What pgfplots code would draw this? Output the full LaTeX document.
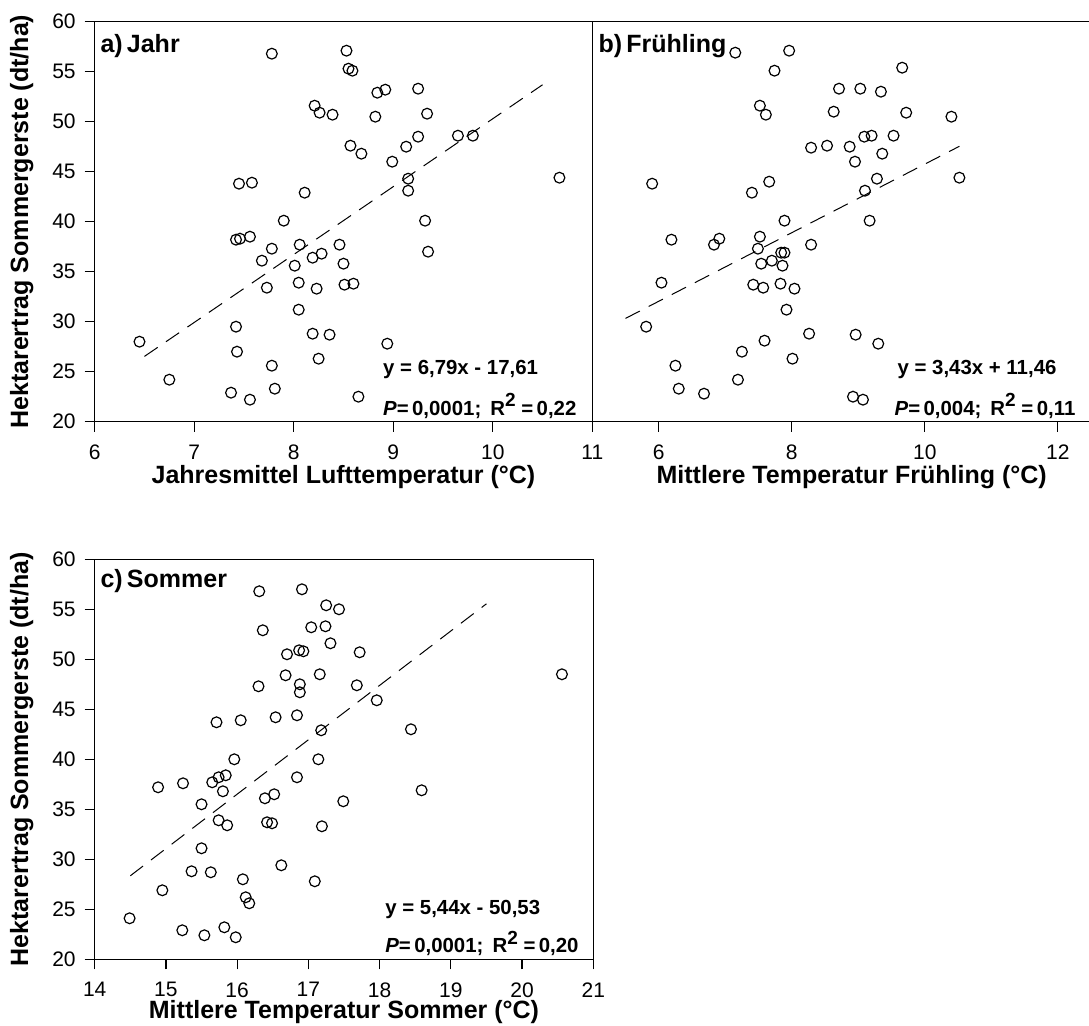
\documentclass[border=0pt]{standalone}
\usepackage{fontspec}
\setmainfont{Liberation Sans}
\usepackage{pgfplots}
\pgfplotsset{compat=1.18}

\pgfplotsset{
  panel/.style={
    scale only axis, height=200pt,
    ymin=20, ymax=60, ytick={20,25,...,60},
    tick align=outside, xtick pos=left, ytick pos=left,
    major tick length=5pt,
    axis line style={line width=0.6pt},
    every tick/.style={black, line width=0.6pt},
    tick label style={font=\fontsize{10.5}{12}\selectfont},
    xticklabel style={yshift=-3pt},
    yticklabel style={xshift=-1pt},
    /pgf/number format/assume math mode=true,
    label style={font=\bfseries\fontsize{12.5}{14}\selectfont},
    clip=false,
  },
  pts/.style={only marks, mark=o, mark size=2.7pt, black, mark options={line width=0.6pt}},
  reg/.style={black, line width=0.5pt, dash pattern=on 8pt off 5pt},
}
\tikzset{
  note/.style={anchor=west, inner sep=0pt, font=\bfseries\fontsize{10.2}{12}\selectfont},
  tag/.style={anchor=west, inner sep=0pt, font=\bfseries\fontsize{12.5}{14}\selectfont},
}
\newcommand{\Rsq}{R\raisebox{0.42em}{\fontsize{9.5}{10}\selectfont 2}}

\begin{document}
\begin{tikzpicture}
\useasboundingbox (-47.35pt,-302.15pt) rectangle (497.15pt,210.85pt);

% a) Jahr
\begin{axis}[panel, at={(0pt,0pt)}, anchor=south west, width=248.8pt,
  xmin=6, xmax=11, xtick={6,...,11},
  xlabel={Jahresmittel Lufttemperatur (°C)},
  ylabel={Hektarertrag Sommergerste (dt/ha)},
  xlabel style={at={(rel axis cs:0.5,-0.1375)}, anchor=center},
  ylabel style={at={(rel axis cs:-0.1467,0.5)}, anchor=center}]
\addplot[pts] coordinates {
(6.45,28.0) (6.75,24.2) (7.78,56.8) (7.45,43.8) (7.58,43.9) (7.42,38.2)
(7.46,38.3) (7.56,38.5) (7.90,40.1) (7.78,37.3) (7.68,36.1) (7.73,33.4)
(7.42,29.5) (7.43,27.0) (7.78,25.6) (7.81,23.3) (7.37,22.9) (7.56,22.2)
(8.11,42.9) (8.06,37.7) (8.01,35.6) (8.05,33.9) (8.05,31.2) (8.19,36.4)
(8.28,36.8) (8.23,33.3) (8.19,28.8) (8.36,28.7) (8.25,26.3) (8.21,51.6)
(8.26,50.9) (8.39,50.7) (8.53,57.1) (8.55,55.3) (8.59,55.1) (8.57,47.6)
(8.68,46.8) (8.46,37.7) (8.50,35.8) (8.51,33.7) (8.60,33.8) (8.65,22.5)
(8.84,52.9) (8.92,53.2) (9.25,53.3) (8.82,50.5) (9.34,50.8) (9.25,48.5)
(9.13,47.5) (8.99,46.0) (9.65,48.6) (9.80,48.6) (9.15,44.3) (9.15,43.1)
(10.67,44.4) (9.32,40.1) (9.35,37.0) (8.94,27.8)
};
\addplot[reg] coordinates {(6.5,26.53) (10.5,53.69)};
\node[tag] at (rel axis cs:0.011,0.94) {a)\,Jahr};
\node[note] at (axis cs:8.895,25.17) {y = 6,79x - 17,61};
\node[note] at (axis cs:8.895,21.57) {\textit{P}=\,0,0001;\, \Rsq\ =\,0,22};
\end{axis}

% b) Fruehling
\begin{axis}[panel, at={(248.8pt,0pt)}, anchor=south west, width=249.4pt,
  xmin=5, xmax=12.5, xtick={6,8,10,12}, ytick=\empty,
  xlabel={Mittlere Temperatur Frühling (°C)},
  xlabel style={at={(rel axis cs:0.52,-0.1375)}, anchor=center}]
\addplot[pts] coordinates {
(7.15,56.9) (7.96,57.1) (7.74,55.1) (9.66,55.4) (8.71,53.3) (9.03,53.3)
(9.34,53.0) (7.52,51.6) (7.61,50.7) (8.63,51.0) (9.72,50.9) (10.40,50.5)
(9.09,48.5) (9.20,48.6) (9.53,48.6) (8.29,47.4) (8.53,47.6) (8.87,47.5)
(9.36,46.8) (8.95,46.0) (5.90,43.8) (7.66,44.0) (7.40,42.9) (9.28,44.3)
(9.10,43.1) (10.52,44.4) (7.89,40.1) (9.17,40.1) (6.19,38.2) (6.91,38.3)
(6.83,37.7) (7.52,38.5) (8.29,37.7) (7.49,37.3) (7.84,36.9) (7.89,36.9)
(7.70,36.1) (7.54,35.8) (7.86,35.6) (6.04,33.9) (7.42,33.7) (7.57,33.4)
(7.83,33.8) (8.04,33.3) (7.92,31.2) (5.81,29.5) (8.26,28.8) (8.96,28.7)
(7.59,28.1) (9.30,27.8) (7.25,27.0) (8.01,26.3) (6.25,25.6) (6.30,23.3)
(7.19,24.2) (6.68,22.8) (8.92,22.5) (9.07,22.2)
};
\addplot[reg] coordinates {(5.5,30.33) (10.52,47.54)};
\node[tag] at (rel axis cs:0.012,0.94) {b)\,Frühling};
\node[note] at (axis cs:9.585,25.17) {y = 3,43x + 11,46};
\node[note] at (axis cs:9.54,21.57) {\textit{P}=\,0,004;\, \Rsq\ =\,0,11};
\end{axis}

% c) Sommer
\begin{axis}[panel, at={(0pt,-268.8pt)}, anchor=south west, width=249.3pt,
  xmin=14, xmax=21, xtick={14,...,21},
  xlabel={Mittlere Temperatur Sommer (°C)},
  ylabel={Hektarertrag Sommergerste (dt/ha)},
  xlabel style={at={(rel axis cs:0.5,-0.131)}, anchor=center},
  ylabel style={at={(rel axis cs:-0.1464,0.5)}, anchor=center}]
\addplot[pts] coordinates {
(14.49,24.1) (14.89,37.2) (14.95,26.9) (15.24,37.6) (15.23,22.9) (15.50,35.5)
(15.50,31.1) (15.36,28.8) (15.54,22.4) (15.63,28.7) (15.71,43.7) (15.65,37.7)
(15.74,38.2) (15.84,38.4) (15.80,36.8) (15.74,33.9) (15.86,33.4) (15.82,23.2)
(15.98,22.2) (15.96,40.0) (16.05,43.9) (16.08,28.0) (16.12,26.2) (16.17,25.6)
(16.31,56.8) (16.36,52.9) (16.30,47.3) (16.54,44.2) (16.39,36.1) (16.52,36.5)
(16.42,33.7) (16.49,33.6) (16.62,29.4) (16.68,48.4) (16.70,50.5) (16.91,57.0)
(16.87,50.9) (16.93,50.8) (16.88,47.5) (16.88,46.7) (16.84,44.4) (16.84,38.2)
(17.09,27.8) (17.04,53.2) (17.16,48.5) (17.18,42.9) (17.14,40.0) (17.19,33.3)
(17.25,55.4) (17.24,53.3) (17.31,51.6) (17.43,55.0) (17.68,47.4) (17.72,50.7)
(17.96,45.9) (18.44,43.0) (18.59,36.9) (17.49,35.8) (20.56,48.5)
};
\addplot[reg] coordinates {(14.5,28.35) (19.5,55.55)};
\node[tag] at (rel axis cs:0.011,0.946) {c)\,Sommer};
\node[note] at (axis cs:18.075,25.0) {y = 5,44x - 50,53};
\node[note] at (axis cs:18.075,21.6) {\textit{P}=\,0,0001;\, \Rsq\ =\,0,20};
\end{axis}
\end{tikzpicture}
\end{document}
